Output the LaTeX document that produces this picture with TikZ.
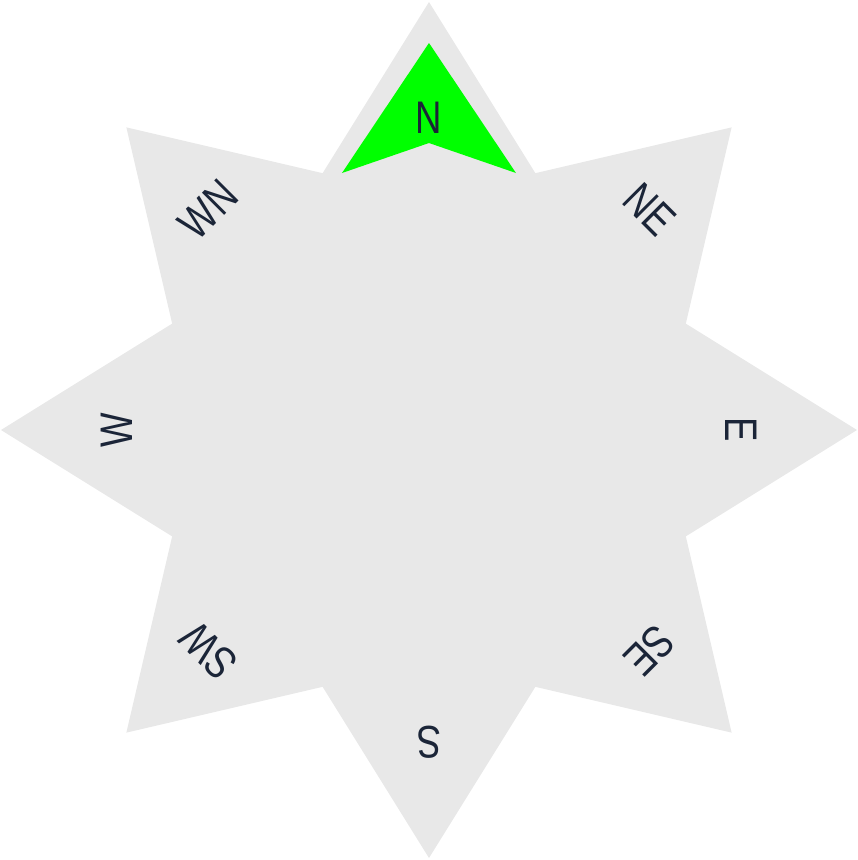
\documentclass[tikz,border=0pt]{standalone}
\usepackage{fontspec}
\setmainfont{Liberation Sans}[FakeStretch=0.8]
\usetikzlibrary{calc}
\definecolor{rose}{HTML}{E8E8E8}
\definecolor{needle}{HTML}{00FF00}
\definecolor{ink}{HTML}{1B2538}
\tikzset{
  dirlbl/.style={font=\fontsize{26}{26}\selectfont, text=ink, inner sep=0pt, anchor=center},
}

\begin{document}
\begin{tikzpicture}[x=0.02cm, y=0.02cm]
  \useasboundingbox (-429,-430) rectangle (429,430);
  % star body
  \fill[rose] (90:428) \foreach \a in {0,...,7} { -- (67.5-\a*45:278) -- (45-\a*45:428) } -- cycle;
  % north needle
  \fill[needle] (0,387) -- (87,257) -- (0,287) -- (-87,257) -- cycle;
  % direction labels, turned outward
  \foreach \lbl/\ang in {N/90, NE/45, E/0, SE/-45, S/-90, SW/-135, W/180, WN/135}
    \node[dirlbl, rotate=\ang-90] (lbl-\lbl) at (\ang:312) {\lbl};
\end{tikzpicture}
\end{document}
